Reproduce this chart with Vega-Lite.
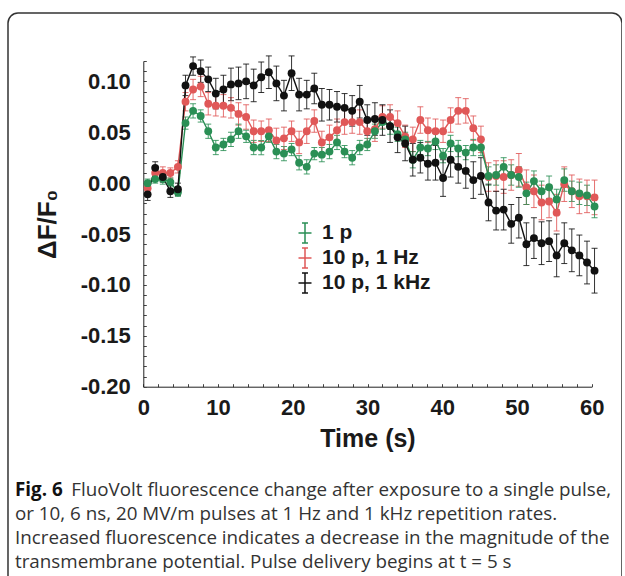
{
  "$schema": "https://vega.github.io/schema/vega-lite/v6.json",
  "width": 614,
  "height": 600,
  "autosize": {"type": "none"},
  "padding": {"left": 8, "top": 13, "right": 0, "bottom": 0},
  "background": "white",
  "config": {
    "view": {"stroke": "#333333", "strokeWidth": 1.5, "cornerRadius": 10, "fill": "white"},
    "font": "Liberation Sans"
  },
  "title": {
    "text": "Fig. 6",
    "subtitle": [
      "\u200b\u2003\u2003\u2003FluoVolt fluorescence change after exposure to a single pulse,",
      "or 10, 6 ns, 20 MV/m pulses at 1 Hz and 1 kHz repetition rates.",
      "Increased fluorescence indicates a decrease in the magnitude of the",
      "transmembrane potential. Pulse delivery begins at t = 5 s"
    ],
    "orient": "bottom",
    "anchor": "start",
    "frame": "group",
    "offset": -132,
    "dx": 7,
    "font": "Open Sans",
    "fontSize": 18.8,
    "fontWeight": "bold",
    "color": "#111111",
    "lineHeight": 19,
    "subtitleFont": "Open Sans",
    "subtitleFontSize": 18.8,
    "subtitleFontWeight": "normal",
    "subtitleColor": "#333333",
    "subtitleLineHeight": 24,
    "subtitlePadding": -19
  },
  "datasets": {
    "d": [
      {"s": "10 p, 1 Hz", "t": 0.58, "v": -0.005, "e": 0.005},
      {"s": "10 p, 1 Hz", "t": 1.59, "v": 0.010, "e": 0.005},
      {"s": "10 p, 1 Hz", "t": 2.61, "v": 0.010, "e": 0.006},
      {"s": "10 p, 1 Hz", "t": 3.62, "v": 0.010, "e": 0.005},
      {"s": "10 p, 1 Hz", "t": 4.63, "v": 0.016, "e": 0.006},
      {"s": "10 p, 1 Hz", "t": 5.65, "v": 0.080, "e": 0.009},
      {"s": "10 p, 1 Hz", "t": 6.66, "v": 0.092, "e": 0.010},
      {"s": "10 p, 1 Hz", "t": 7.68, "v": 0.095, "e": 0.010},
      {"s": "10 p, 1 Hz", "t": 8.69, "v": 0.078, "e": 0.011},
      {"s": "10 p, 1 Hz", "t": 9.70, "v": 0.076, "e": 0.010},
      {"s": "10 p, 1 Hz", "t": 10.72, "v": 0.076, "e": 0.011},
      {"s": "10 p, 1 Hz", "t": 11.73, "v": 0.074, "e": 0.010},
      {"s": "10 p, 1 Hz", "t": 12.74, "v": 0.068, "e": 0.011},
      {"s": "10 p, 1 Hz", "t": 13.76, "v": 0.065, "e": 0.012},
      {"s": "10 p, 1 Hz", "t": 14.77, "v": 0.051, "e": 0.011},
      {"s": "10 p, 1 Hz", "t": 15.78, "v": 0.051, "e": 0.010},
      {"s": "10 p, 1 Hz", "t": 16.80, "v": 0.052, "e": 0.011},
      {"s": "10 p, 1 Hz", "t": 17.81, "v": 0.042, "e": 0.012},
      {"s": "10 p, 1 Hz", "t": 18.82, "v": 0.044, "e": 0.011},
      {"s": "10 p, 1 Hz", "t": 19.84, "v": 0.051, "e": 0.010},
      {"s": "10 p, 1 Hz", "t": 20.85, "v": 0.040, "e": 0.011},
      {"s": "10 p, 1 Hz", "t": 21.87, "v": 0.051, "e": 0.012},
      {"s": "10 p, 1 Hz", "t": 22.88, "v": 0.061, "e": 0.011},
      {"s": "10 p, 1 Hz", "t": 23.89, "v": 0.040, "e": 0.011},
      {"s": "10 p, 1 Hz", "t": 24.91, "v": 0.045, "e": 0.012},
      {"s": "10 p, 1 Hz", "t": 25.92, "v": 0.052, "e": 0.011},
      {"s": "10 p, 1 Hz", "t": 26.93, "v": 0.060, "e": 0.012},
      {"s": "10 p, 1 Hz", "t": 27.95, "v": 0.060, "e": 0.011},
      {"s": "10 p, 1 Hz", "t": 28.96, "v": 0.060, "e": 0.012},
      {"s": "10 p, 1 Hz", "t": 29.97, "v": 0.051, "e": 0.011},
      {"s": "10 p, 1 Hz", "t": 30.99, "v": 0.053, "e": 0.012},
      {"s": "10 p, 1 Hz", "t": 32.00, "v": 0.065, "e": 0.011},
      {"s": "10 p, 1 Hz", "t": 33.02, "v": 0.065, "e": 0.012},
      {"s": "10 p, 1 Hz", "t": 34.03, "v": 0.059, "e": 0.012},
      {"s": "10 p, 1 Hz", "t": 35.04, "v": 0.046, "e": 0.011},
      {"s": "10 p, 1 Hz", "t": 36.06, "v": 0.043, "e": 0.012},
      {"s": "10 p, 1 Hz", "t": 37.07, "v": 0.062, "e": 0.013},
      {"s": "10 p, 1 Hz", "t": 38.08, "v": 0.052, "e": 0.012},
      {"s": "10 p, 1 Hz", "t": 39.10, "v": 0.051, "e": 0.012},
      {"s": "10 p, 1 Hz", "t": 40.11, "v": 0.051, "e": 0.011},
      {"s": "10 p, 1 Hz", "t": 41.12, "v": 0.062, "e": 0.012},
      {"s": "10 p, 1 Hz", "t": 42.14, "v": 0.071, "e": 0.013},
      {"s": "10 p, 1 Hz", "t": 43.15, "v": 0.071, "e": 0.012},
      {"s": "10 p, 1 Hz", "t": 44.16, "v": 0.054, "e": 0.012},
      {"s": "10 p, 1 Hz", "t": 45.18, "v": 0.043, "e": 0.013},
      {"s": "10 p, 1 Hz", "t": 46.19, "v": 0.006, "e": 0.014},
      {"s": "10 p, 1 Hz", "t": 47.21, "v": 0.007, "e": 0.015},
      {"s": "10 p, 1 Hz", "t": 48.22, "v": 0.006, "e": 0.016},
      {"s": "10 p, 1 Hz", "t": 49.23, "v": 0.008, "e": 0.015},
      {"s": "10 p, 1 Hz", "t": 50.25, "v": 0.013, "e": 0.016},
      {"s": "10 p, 1 Hz", "t": 51.26, "v": -0.004, "e": 0.017},
      {"s": "10 p, 1 Hz", "t": 52.27, "v": -0.008, "e": 0.016},
      {"s": "10 p, 1 Hz", "t": 53.29, "v": -0.019, "e": 0.017},
      {"s": "10 p, 1 Hz", "t": 54.30, "v": -0.018, "e": 0.016},
      {"s": "10 p, 1 Hz", "t": 55.31, "v": -0.029, "e": 0.018},
      {"s": "10 p, 1 Hz", "t": 56.33, "v": -0.001, "e": 0.017},
      {"s": "10 p, 1 Hz", "t": 57.34, "v": -0.008, "e": 0.016},
      {"s": "10 p, 1 Hz", "t": 58.35, "v": -0.013, "e": 0.017},
      {"s": "10 p, 1 Hz", "t": 59.37, "v": -0.013, "e": 0.016},
      {"s": "10 p, 1 Hz", "t": 60.38, "v": -0.014, "e": 0.017},

      {"s": "1 p", "t": 0.58, "v": 0.000, "e": 0.004},
      {"s": "1 p", "t": 1.59, "v": 0.004, "e": 0.004},
      {"s": "1 p", "t": 2.61, "v": 0.004, "e": 0.005},
      {"s": "1 p", "t": 3.62, "v": 0.001, "e": 0.004},
      {"s": "1 p", "t": 4.63, "v": -0.009, "e": 0.004},
      {"s": "1 p", "t": 5.65, "v": 0.059, "e": 0.006},
      {"s": "1 p", "t": 6.66, "v": 0.071, "e": 0.007},
      {"s": "1 p", "t": 7.68, "v": 0.066, "e": 0.006},
      {"s": "1 p", "t": 8.69, "v": 0.051, "e": 0.007},
      {"s": "1 p", "t": 9.70, "v": 0.035, "e": 0.007},
      {"s": "1 p", "t": 10.72, "v": 0.038, "e": 0.006},
      {"s": "1 p", "t": 11.73, "v": 0.043, "e": 0.007},
      {"s": "1 p", "t": 12.74, "v": 0.051, "e": 0.007},
      {"s": "1 p", "t": 13.76, "v": 0.046, "e": 0.006},
      {"s": "1 p", "t": 14.77, "v": 0.035, "e": 0.007},
      {"s": "1 p", "t": 15.78, "v": 0.035, "e": 0.007},
      {"s": "1 p", "t": 16.80, "v": 0.046, "e": 0.006},
      {"s": "1 p", "t": 17.81, "v": 0.031, "e": 0.007},
      {"s": "1 p", "t": 18.82, "v": 0.029, "e": 0.007},
      {"s": "1 p", "t": 19.84, "v": 0.033, "e": 0.006},
      {"s": "1 p", "t": 20.85, "v": 0.020, "e": 0.007},
      {"s": "1 p", "t": 21.87, "v": 0.016, "e": 0.007},
      {"s": "1 p", "t": 22.88, "v": 0.029, "e": 0.006},
      {"s": "1 p", "t": 23.89, "v": 0.028, "e": 0.007},
      {"s": "1 p", "t": 24.91, "v": 0.031, "e": 0.007},
      {"s": "1 p", "t": 25.92, "v": 0.040, "e": 0.007},
      {"s": "1 p", "t": 26.93, "v": 0.031, "e": 0.006},
      {"s": "1 p", "t": 27.95, "v": 0.025, "e": 0.007},
      {"s": "1 p", "t": 28.96, "v": 0.035, "e": 0.007},
      {"s": "1 p", "t": 29.97, "v": 0.038, "e": 0.006},
      {"s": "1 p", "t": 30.99, "v": 0.051, "e": 0.007},
      {"s": "1 p", "t": 32.00, "v": 0.060, "e": 0.007},
      {"s": "1 p", "t": 33.02, "v": 0.056, "e": 0.008},
      {"s": "1 p", "t": 34.03, "v": 0.048, "e": 0.007},
      {"s": "1 p", "t": 35.04, "v": 0.043, "e": 0.007},
      {"s": "1 p", "t": 36.06, "v": 0.023, "e": 0.008},
      {"s": "1 p", "t": 37.07, "v": 0.035, "e": 0.007},
      {"s": "1 p", "t": 38.08, "v": 0.034, "e": 0.007},
      {"s": "1 p", "t": 39.10, "v": 0.041, "e": 0.008},
      {"s": "1 p", "t": 40.11, "v": 0.027, "e": 0.007},
      {"s": "1 p", "t": 41.12, "v": 0.039, "e": 0.008},
      {"s": "1 p", "t": 42.14, "v": 0.034, "e": 0.008},
      {"s": "1 p", "t": 43.15, "v": 0.030, "e": 0.007},
      {"s": "1 p", "t": 44.16, "v": 0.035, "e": 0.008},
      {"s": "1 p", "t": 45.18, "v": 0.035, "e": 0.008},
      {"s": "1 p", "t": 46.19, "v": 0.007, "e": 0.009},
      {"s": "1 p", "t": 47.21, "v": 0.008, "e": 0.010},
      {"s": "1 p", "t": 48.22, "v": 0.016, "e": 0.009},
      {"s": "1 p", "t": 49.23, "v": 0.008, "e": 0.010},
      {"s": "1 p", "t": 50.25, "v": 0.006, "e": 0.010},
      {"s": "1 p", "t": 51.26, "v": -0.010, "e": 0.011},
      {"s": "1 p", "t": 52.27, "v": 0.002, "e": 0.010},
      {"s": "1 p", "t": 53.29, "v": -0.008, "e": 0.010},
      {"s": "1 p", "t": 54.30, "v": -0.004, "e": 0.011},
      {"s": "1 p", "t": 55.31, "v": -0.016, "e": 0.010},
      {"s": "1 p", "t": 56.33, "v": 0.003, "e": 0.011},
      {"s": "1 p", "t": 57.34, "v": -0.008, "e": 0.010},
      {"s": "1 p", "t": 58.35, "v": -0.010, "e": 0.011},
      {"s": "1 p", "t": 59.37, "v": -0.012, "e": 0.010},
      {"s": "1 p", "t": 60.38, "v": -0.023, "e": 0.011},

      {"s": "10 p, 1 kHz", "t": 0.58, "v": -0.011, "e": 0.006},
      {"s": "10 p, 1 kHz", "t": 1.59, "v": 0.015, "e": 0.006},
      {"s": "10 p, 1 kHz", "t": 2.61, "v": 0.006, "e": 0.005},
      {"s": "10 p, 1 kHz", "t": 3.62, "v": -0.008, "e": 0.006},
      {"s": "10 p, 1 kHz", "t": 4.63, "v": -0.006, "e": 0.006},
      {"s": "10 p, 1 kHz", "t": 5.65, "v": 0.096, "e": 0.010},
      {"s": "10 p, 1 kHz", "t": 6.66, "v": 0.115, "e": 0.009},
      {"s": "10 p, 1 kHz", "t": 7.68, "v": 0.110, "e": 0.011},
      {"s": "10 p, 1 kHz", "t": 8.69, "v": 0.102, "e": 0.012},
      {"s": "10 p, 1 kHz", "t": 9.70, "v": 0.088, "e": 0.015},
      {"s": "10 p, 1 kHz", "t": 10.72, "v": 0.092, "e": 0.014},
      {"s": "10 p, 1 kHz", "t": 11.73, "v": 0.097, "e": 0.016},
      {"s": "10 p, 1 kHz", "t": 12.74, "v": 0.098, "e": 0.016},
      {"s": "10 p, 1 kHz", "t": 13.76, "v": 0.100, "e": 0.017},
      {"s": "10 p, 1 kHz", "t": 14.77, "v": 0.096, "e": 0.016},
      {"s": "10 p, 1 kHz", "t": 15.78, "v": 0.104, "e": 0.015},
      {"s": "10 p, 1 kHz", "t": 16.80, "v": 0.109, "e": 0.016},
      {"s": "10 p, 1 kHz", "t": 17.81, "v": 0.098, "e": 0.017},
      {"s": "10 p, 1 kHz", "t": 18.82, "v": 0.086, "e": 0.015},
      {"s": "10 p, 1 kHz", "t": 19.84, "v": 0.108, "e": 0.017},
      {"s": "10 p, 1 kHz", "t": 20.85, "v": 0.087, "e": 0.016},
      {"s": "10 p, 1 kHz", "t": 21.87, "v": 0.087, "e": 0.014},
      {"s": "10 p, 1 kHz", "t": 22.88, "v": 0.093, "e": 0.015},
      {"s": "10 p, 1 kHz", "t": 23.89, "v": 0.077, "e": 0.016},
      {"s": "10 p, 1 kHz", "t": 24.91, "v": 0.077, "e": 0.015},
      {"s": "10 p, 1 kHz", "t": 25.92, "v": 0.075, "e": 0.015},
      {"s": "10 p, 1 kHz", "t": 26.93, "v": 0.074, "e": 0.014},
      {"s": "10 p, 1 kHz", "t": 27.95, "v": 0.071, "e": 0.015},
      {"s": "10 p, 1 kHz", "t": 28.96, "v": 0.080, "e": 0.016},
      {"s": "10 p, 1 kHz", "t": 29.97, "v": 0.062, "e": 0.015},
      {"s": "10 p, 1 kHz", "t": 30.99, "v": 0.063, "e": 0.016},
      {"s": "10 p, 1 kHz", "t": 32.00, "v": 0.062, "e": 0.015},
      {"s": "10 p, 1 kHz", "t": 33.02, "v": 0.056, "e": 0.016},
      {"s": "10 p, 1 kHz", "t": 34.03, "v": 0.045, "e": 0.015},
      {"s": "10 p, 1 kHz", "t": 35.04, "v": 0.039, "e": 0.017},
      {"s": "10 p, 1 kHz", "t": 36.06, "v": 0.023, "e": 0.016},
      {"s": "10 p, 1 kHz", "t": 37.07, "v": 0.025, "e": 0.015},
      {"s": "10 p, 1 kHz", "t": 38.08, "v": 0.019, "e": 0.016},
      {"s": "10 p, 1 kHz", "t": 39.10, "v": 0.020, "e": 0.017},
      {"s": "10 p, 1 kHz", "t": 40.11, "v": 0.005, "e": 0.018},
      {"s": "10 p, 1 kHz", "t": 41.12, "v": 0.023, "e": 0.017},
      {"s": "10 p, 1 kHz", "t": 42.14, "v": 0.016, "e": 0.016},
      {"s": "10 p, 1 kHz", "t": 43.15, "v": 0.012, "e": 0.017},
      {"s": "10 p, 1 kHz", "t": 44.16, "v": 0.003, "e": 0.018},
      {"s": "10 p, 1 kHz", "t": 45.18, "v": 0.007, "e": 0.018},
      {"s": "10 p, 1 kHz", "t": 46.19, "v": -0.019, "e": 0.018},
      {"s": "10 p, 1 kHz", "t": 47.21, "v": -0.027, "e": 0.019},
      {"s": "10 p, 1 kHz", "t": 48.22, "v": -0.026, "e": 0.020},
      {"s": "10 p, 1 kHz", "t": 49.23, "v": -0.040, "e": 0.019},
      {"s": "10 p, 1 kHz", "t": 50.25, "v": -0.034, "e": 0.020},
      {"s": "10 p, 1 kHz", "t": 51.26, "v": -0.060, "e": 0.021},
      {"s": "10 p, 1 kHz", "t": 52.27, "v": -0.054, "e": 0.020},
      {"s": "10 p, 1 kHz", "t": 53.29, "v": -0.059, "e": 0.021},
      {"s": "10 p, 1 kHz", "t": 54.30, "v": -0.057, "e": 0.020},
      {"s": "10 p, 1 kHz", "t": 55.31, "v": -0.071, "e": 0.021},
      {"s": "10 p, 1 kHz", "t": 56.33, "v": -0.059, "e": 0.020},
      {"s": "10 p, 1 kHz", "t": 57.34, "v": -0.066, "e": 0.021},
      {"s": "10 p, 1 kHz", "t": 58.35, "v": -0.071, "e": 0.020},
      {"s": "10 p, 1 kHz", "t": 59.37, "v": -0.078, "e": 0.021},
      {"s": "10 p, 1 kHz", "t": 60.38, "v": -0.086, "e": 0.022}
    ]
  },
  "data": {"name": "d"},
  "encoding": {
    "x": {
      "field": "t",
      "type": "quantitative",
      "scale": {"domain": [0, 60], "range": [135.3, 583.7], "nice": false, "zero": false, "padding": 0},
      "axis": {
        "title": "Time (s)",
        "values": [0, 2, 4, 6, 8, 10, 12, 14, 16, 18, 20, 22, 24, 26, 28, 30, 32, 34, 36, 38, 40, 42, 44, 46, 48, 50, 52, 54, 56, 58, 60],
        "labelExpr": "datum.value % 10 == 0 ? datum.label : ''",
        "labelOverlap": false,
        "labelFlush": false,
        "offset": -226.3,
        "grid": false,
        "domainColor": "#222222",
        "domainWidth": 1,
        "tickColor": "#444444",
        "tickSize": -3,
        "labelPadding": 14,
        "labelFont": "Liberation Sans",
        "labelFontSize": 22,
        "labelFontWeight": "bold",
        "labelColor": "#1a1a1a",
        "titleFont": "Liberation Sans",
        "titleFontSize": 25,
        "titleFontWeight": "bold",
        "titleColor": "#1a1a1a",
        "titlePadding": 8
      }
    },
    "y": {
      "field": "v",
      "type": "quantitative",
      "scale": {"domain": [-0.2, 0.12], "range": [373.7, 48], "nice": false, "zero": false, "padding": 0},
      "axis": {
        "title": "\u0394F/F\u2080",
        "values": [-0.2, -0.19, -0.18, -0.17, -0.16, -0.15, -0.14, -0.13, -0.12, -0.11, -0.1, -0.09, -0.08, -0.07, -0.06, -0.05, -0.04, -0.03, -0.02, -0.01, 0, 0.01, 0.02, 0.03, 0.04, 0.05, 0.06, 0.07, 0.08, 0.09, 0.1, 0.11, 0.12],
        "labelExpr": "abs(round(datum.value * 100)) % 5 == 0 ? replace(format(datum.value, '.2f'), '\u2212', '-') : ''",
        "labelOverlap": false,
        "labelFlush": false,
        "offset": -135.3,
        "grid": false,
        "domainColor": "#222222",
        "domainWidth": 1,
        "tickColor": "#444444",
        "tickSize": -3,
        "labelPadding": 16,
        "labelFont": "Liberation Sans",
        "labelFontSize": 22,
        "labelFontWeight": "bold",
        "labelColor": "#1a1a1a",
        "titleFont": "Liberation Sans",
        "titleFontSize": 26,
        "titleFontWeight": "bold",
        "titleColor": "#1a1a1a",
        "titlePadding": 20
      }
    },
    "color": {
      "field": "s",
      "type": "nominal",
      "scale": {"domain": ["1 p", "10 p, 1 Hz", "10 p, 1 kHz"], "range": ["#2a8f55", "#e05858", "#111111"]},
      "legend": {
        "title": null,
        "orient": "none",
        "legendX": 286,
        "legendY": 209,
        "padding": 0,
        "symbolType": "M-0.65,0H0.65M0,-1V1M-0.3,-1H0.3M-0.3,1H0.3",
        "symbolSize": 400,
        "symbolStrokeWidth": 1.5,
        "rowPadding": -1,
        "labelOffset": 6,
        "labelFont": "Liberation Sans",
        "labelFontSize": 21,
        "labelFontWeight": "bold",
        "labelColor": "#1a1a1a",
        "encode": {
          "symbols": {
            "update": {
              "stroke": {"scale": "color", "field": "value"},
              "fill": {"value": "transparent"},
              "strokeWidth": {"value": 1.5},
              "opacity": {"value": 1}
            }
          }
        }
      }
    }
  },
  "layer": [
    {
      "mark": {"type": "errorbar", "ticks": {"size": 6}, "thickness": 1, "opacity": 0.85},
      "encoding": {"yError": {"field": "e"}}
    },
    {
      "mark": {"type": "line", "strokeWidth": 1.4},
      "encoding": {}
    },
    {
      "mark": {"type": "point", "filled": true, "size": 62, "opacity": 1},
      "encoding": {}
    }
  ]
}
